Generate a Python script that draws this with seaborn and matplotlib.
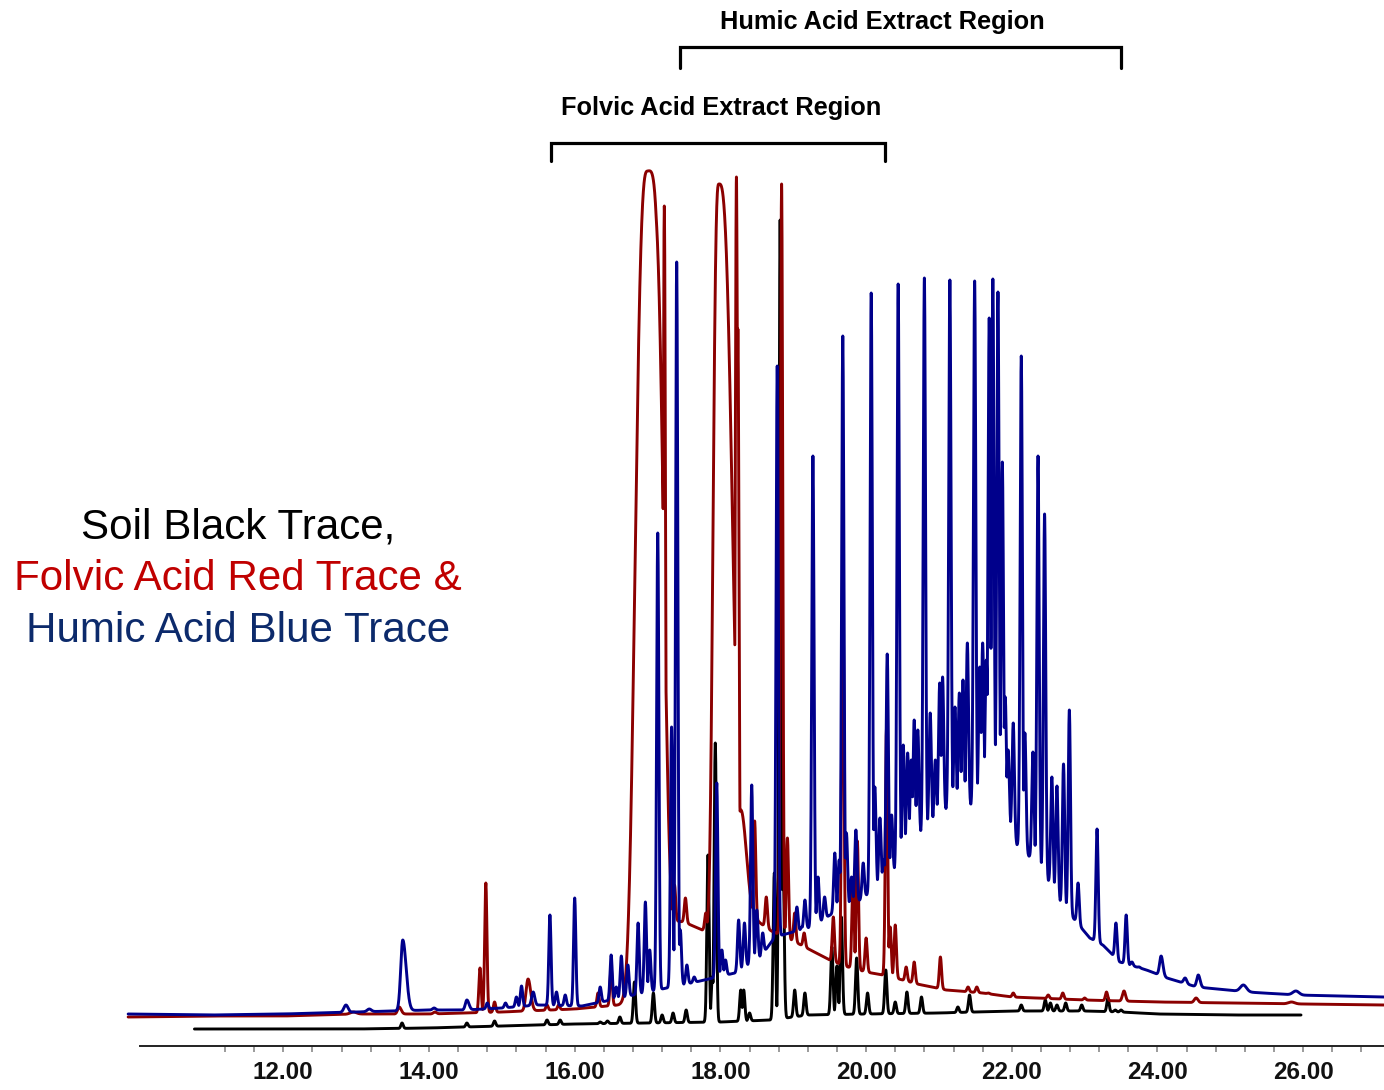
import numpy as np
import pandas as pd
import matplotlib
matplotlib.use("Agg")
import matplotlib.pyplot as plt
import seaborn as sns

# ---------------- data (retention time in min, abundance in arbitrary units) ----------------
# Soil (black trace)
black_range = [10.78, 25.97]
black_base_rt = [10.78, 13.0, 14.0, 15.0, 16.0, 17.0, 18.0, 18.7, 19.2, 20.0, 21.0, 22.0, 23.0, 23.5, 24.0, 25.0, 25.97]
black_base_v = [17, 17, 18, 20, 22, 23, 24, 26, 31, 32, 33, 35, 35, 34, 32, 31, 31]
black_rt = [13.63, 14.52, 14.90, 15.62, 15.80, 16.35, 16.45, 16.62, 16.82, 17.08, 17.20, 17.35, 17.53,
            17.83, 17.89, 17.93, 18.28, 18.32, 18.40, 18.74, 18.82, 18.86, 19.02, 19.16, 19.53, 19.60,
            19.66, 19.87, 20.02, 20.27, 20.40, 20.56, 20.76, 21.26, 21.42, 22.13, 22.46, 22.53, 22.62,
            22.74, 22.96, 23.32, 23.42, 23.50]
black_apex = [23, 23, 25, 26, 26, 24, 25, 29, 64, 53, 31, 33, 36,
              191, 69, 303, 56, 56, 33, 173, 826, 186, 56, 53, 99, 80,
              129, 88, 53, 76, 44, 54, 49, 39, 51, 41, 46, 43, 41,
              43, 41, 48, 36, 36]

# Folvic acid (red trace)
red_range = [9.87, 27.11]
red_base_rt = [9.87, 11.0, 12.0, 13.0, 14.0, 14.5, 15.0, 16.0, 16.6, 17.12, 17.27, 17.5, 17.75, 18.2,
               18.5, 18.7, 19.0, 19.5, 19.7, 20.0, 20.3, 20.7, 21.1, 21.6, 22.0, 23.0, 24.0, 26.0, 27.11]
red_base_v = [29, 30, 30, 32, 32, 33, 34, 37, 41, 47, 126, 124, 116, 120,
              125, 115, 105, 86, 80, 74, 70, 62, 56, 53, 49, 46, 44, 42, 41]
red_rt = [14.70, 14.78, 14.90, 15.62, 15.78, 16.32, 16.50, 17.23, 17.37, 17.52, 17.80, 18.22, 18.24,
          18.47, 18.63, 18.84, 18.92, 19.02, 19.15, 19.55, 19.68, 19.82, 19.88, 20.00, 20.28, 20.33,
          20.40, 20.55, 20.66, 21.02, 21.40, 21.52, 21.68, 22.02, 22.50, 22.70, 23.00, 23.30]
red_apex = [78, 163, 44, 41, 41, 53, 78, 840, 161, 148, 133, 869, 717,
            225, 149, 862, 208, 133, 113, 129, 486, 163, 205, 108, 318, 119,
            121, 79, 84, 89, 59, 59, 53, 53, 51, 53, 48, 54]
# broad / overloaded red peaks: rt, apex, left width, right width, left power, right power
red_broad_rt = [12.96, 13.59, 14.08, 15.36, 17.00, 17.98, 18.28, 23.54, 24.53, 25.84]
red_broad_apex = [34, 39, 34, 67, 875, 862, 236, 55, 48, 44]
red_broad_wl = [0.06, 0.03, 0.03, 0.04, 0.20, 0.096, 0.11, 0.03, 0.035, 0.06]
red_broad_wr = [0.06, 0.04, 0.03, 0.05, 0.24, 0.22, 0.11, 0.03, 0.035, 0.06]
red_broad_pl = [2, 2, 2, 2, 3, 3, 2, 2, 2, 2]
red_broad_pr = [2, 2, 2, 2, 4, 3, 2, 2, 2, 2]

# Humic acid (blue trace)
blue_range = [9.87, 27.11]
blue_base_rt = [9.87, 11.0, 12.0, 13.0, 14.0, 14.5, 15.0, 15.5, 16.1, 16.5, 17.0, 17.6, 18.2, 18.55,
                18.75, 19.0, 19.25, 19.55, 19.92, 20.15, 20.37, 20.6, 20.88, 21.15, 21.5, 21.77, 22.07,
                22.39, 22.66, 22.83, 23.07, 23.25, 23.48, 23.85, 24.13, 24.54, 25.23, 25.9, 27.11]
blue_base_v = [32, 31, 32, 34, 36, 36, 38, 41, 40, 46, 54, 63, 73, 89,
               109, 114, 119, 133, 146, 159, 173, 203, 219, 240, 240, 256, 201,
               179, 144, 129, 108, 101, 84, 76, 68, 59, 54, 51, 49]
blue_rt = [14.80, 15.05, 15.20, 15.27, 15.66, 15.75, 15.87, 16.00, 16.35, 16.50, 16.57, 16.64, 16.73,
           16.87, 16.97, 17.03, 17.14, 17.33, 17.40, 17.45, 17.54, 17.64, 17.95, 18.02, 18.07, 18.25,
           18.33, 18.43, 18.50, 18.58, 18.78, 19.05, 19.12, 19.16, 19.27, 19.34, 19.43, 19.57, 19.63,
           19.68, 19.73, 19.80, 19.86, 19.96, 20.07, 20.12, 20.19, 20.24, 20.29, 20.35, 20.44, 20.51,
           20.57, 20.62, 20.66, 20.71, 20.80, 20.88, 20.95, 21.01, 21.05, 21.15, 21.22, 21.28, 21.33,
           21.39, 21.49, 21.56, 21.60, 21.65, 21.69, 21.74, 21.81, 21.87, 21.91, 21.95, 22.02, 22.13,
           22.18, 22.29, 22.36, 22.45, 22.55, 22.62, 22.71, 22.79, 22.91, 23.17, 23.43, 23.57, 23.65,
           23.75]
blue_apex = [43, 43, 49, 60, 131, 54, 51, 148, 59, 91, 59, 90, 81,
             123, 144, 96, 513, 319, 784, 116, 81, 69, 263, 96, 86, 126,
             123, 261, 136, 113, 680, 139, 119, 146, 590, 169, 149, 193, 186,
             710, 213, 169, 216, 183, 753, 259, 228, 186, 392, 231, 762, 301,
             293, 286, 326, 316, 768, 333, 286, 363, 369, 766, 339, 353, 366,
             403, 765, 379, 403, 386, 728, 767, 754, 584, 349, 296, 323, 690,
             313, 294, 590, 532, 269, 260, 282, 336, 163, 217, 123, 131, 84,
             79]
blue_broad_rt = [12.86, 13.18, 13.64, 14.07, 14.52, 15.43, 24.05, 24.38, 24.56, 25.18, 25.90]
blue_broad_apex = [41, 37, 106, 38, 46, 54, 90, 68, 71, 61, 55]
blue_broad_wl = [0.04, 0.04, 0.04, 0.03, 0.03, 0.03, 0.03, 0.03, 0.03, 0.06, 0.06]
blue_broad_wr = [0.04, 0.04, 0.065, 0.03, 0.04, 0.03, 0.035, 0.03, 0.035, 0.06, 0.06]

axis_ticks_minor = np.round(np.arange(11.2, 26.81, 0.4), 1)
axis_ticks_major = [12, 14, 16, 18, 20, 22, 24, 26]
regions = {"Humic Acid Extract Region": (17.45, 23.50),
           "Folvic Acid Extract Region": (15.68, 20.26)}

# ---------------- build traces from peak tables ----------------
NARROW = 0.022
STEP = 0.002


def shape(t, rt, wl, wr, pl=2, pr=2):
    d = t - rt
    left = np.exp(-(np.abs(d) / wl) ** pl)
    right = np.exp(-(np.abs(d) / wr) ** pr)
    return np.where(d < 0, left, right)


def build(rng, base_rt, base_v, rts, apex, b_rt=(), b_apex=(), b_wl=(), b_wr=(), b_pl=None, b_pr=None):
    t = np.arange(rng[0], rng[1] + STEP / 2, STEP)
    base = np.interp(t, base_rt, base_v)
    env = np.zeros_like(t)
    for r, a in zip(rts, apex):
        h = a - np.interp(r, base_rt, base_v)
        env = np.maximum(env, h * shape(t, r, NARROW, NARROW))
    b_pl = b_pl if b_pl is not None else [2] * len(b_rt)
    b_pr = b_pr if b_pr is not None else [2] * len(b_rt)
    for r, a, wl, wr, pl, pr in zip(b_rt, b_apex, b_wl, b_wr, b_pl, b_pr):
        h = a - np.interp(r, base_rt, base_v)
        env = np.maximum(env, h * shape(t, r, wl, wr, pl, pr))
    return t, base + env


tb, yb = build(black_range, black_base_rt, black_base_v, black_rt, black_apex)
tr, yr = build(red_range, red_base_rt, red_base_v, red_rt, red_apex,
               red_broad_rt, red_broad_apex, red_broad_wl, red_broad_wr, red_broad_pl, red_broad_pr)
tu, yu = build(blue_range, blue_base_rt, blue_base_v, blue_rt, blue_apex,
               blue_broad_rt, blue_broad_apex, blue_broad_wl, blue_broad_wr)

df = pd.concat([
    pd.DataFrame({"rt": tb, "abundance": yb, "trace": "Soil"}),
    pd.DataFrame({"rt": tr, "abundance": yr, "trace": "Folvic acid"}),
    pd.DataFrame({"rt": tu, "abundance": yu, "trace": "Humic acid"}),
], ignore_index=True)

# ---------------- plot ----------------
sns.set_theme(style="white")
plt.rcParams["font.family"] = ["Liberation Sans", "DejaVu Sans"]

W, H = 1384, 1090
fig = plt.figure(figsize=(W / 100, H / 100), dpi=100)
ax = fig.add_axes([0, 44 / H, 1, 1046 / H])

palette = {"Soil": "#000000", "Folvic acid": "#8b0000", "Humic acid": "#00008b"}
sns.lineplot(data=df, x="rt", y="abundance", hue="trace", palette=palette,
             hue_order=["Soil", "Folvic acid", "Humic acid"], estimator=None, sort=False,
             linewidth=2.1, legend=False, ax=ax)

x0 = 12 - 283.3 / 72.85
x1 = 12 + (1384 - 283.3) / 72.85
ax.set_xlim(x0, x1)
ax.set_ylim(0, 1046)
ax.set_xlabel("")
ax.set_ylabel("")
ax.set_yticks([])
for s in ["left", "right", "top"]:
    ax.spines[s].set_visible(False)
ax.spines["bottom"].set_bounds(12 - (283.3 - 140) / 72.85, x1)
ax.spines["bottom"].set_color("#222222")
ax.spines["bottom"].set_linewidth(1.4)

ax.set_xticks(axis_ticks_major)
ax.set_xticklabels([f"{v:.2f}" for v in axis_ticks_major], fontsize=17.5, fontweight="bold", color="#111111")
ax.set_xticks([v for v in axis_ticks_minor if v not in axis_ticks_major], minor=True)
ax.tick_params(axis="x", which="both", direction="out", length=4.5, width=1.1, color="#808080",
               pad=6.5, bottom=True)

# bracket annotations: (bracket top, bracket foot, label x-centre, label baseline)
bracket_style = {"Humic Acid Extract Region": (999, 978, 20.22, 1017),
                 "Folvic Acid Extract Region": (903, 885, 18.01, 931)}
for name, (a, b) in regions.items():
    top, foot, tx, ty = bracket_style[name]
    ax.plot([a, a, b, b], [foot, top, top, foot], color="black", lw=2.3, solid_joinstyle="miter",
            clip_on=False)
    ax.text(tx, ty, name, ha="center", va="baseline", fontsize=18.3,
            fontweight="bold", color="black")

# left legend-like text
fig.text(238 / W, 1 - 539 / H, "Soil Black Trace,", ha="center", va="baseline", fontsize=30.3, color="black")
fig.text(238 / W, 1 - 590 / H, "Folvic Acid Red Trace &", ha="center", va="baseline", fontsize=30.3,
         color="#c00000")
fig.text(238 / W, 1 - 642 / H, "Humic Acid Blue Trace", ha="center", va="baseline", fontsize=30.3,
         color="#0c2a6b")

fig.savefig("out.png", dpi=100)
